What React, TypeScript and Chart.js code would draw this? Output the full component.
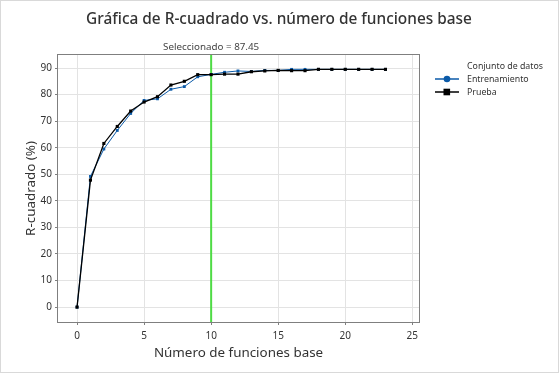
import React, { useEffect, useRef } from "react";
import { Chart, registerables } from "chart.js";

Chart.register(...registerables);

const xValues = [0, 1, 2, 3, 4, 5, 6, 7, 8, 9, 10, 11, 12, 13, 14, 15, 16, 17, 18, 19, 20, 21, 22, 23];
const trainValues = [0, 49.2, 59.5, 66.5, 72.9, 77.8, 78.4, 82.0, 83.0, 86.7, 87.6, 88.4, 88.9, 88.7, 89.1, 89.1, 89.5, 89.5, 89.5, 89.5, 89.5, 89.5, 89.5, 89.5];
const testValues = [0, 47.8, 61.6, 68.0, 73.8, 77.2, 79.2, 83.6, 85.0, 87.5, 87.5, 87.7, 87.7, 88.6, 88.9, 89.1, 89.0, 89.0, 89.5, 89.5, 89.5, 89.5, 89.5, 89.5];
const xTicks = [0, 5, 10, 15, 20, 25];
const yTicks = [0, 10, 20, 30, 40, 50, 60, 70, 80, 90];
const seriesNames = ["Entrenamiento", "Prueba"];
const selectedX = 10;
const selectedLabel = "Seleccionado = 87.45";
const titleText = "Gráfica de R-cuadrado vs. número de funciones base";
const xTitle = "Número de funciones base";
const yTitle = "R-cuadrado (%)";
const legendTitle = "Conjunto de datos";

const FONT = "'Noto Sans', 'Open Sans', sans-serif";
const BLUE = "#0b5aa8";
const BLACK = "#000000";

export default function App() {
  const ref = useRef<HTMLCanvasElement | null>(null);

  useEffect(() => {
    document.body.style.margin = "0";
    const canvas = ref.current;
    if (!canvas) return;

    const decor = {
      id: "decor",
      beforeDatasetsDraw(chart: any) {
        const { ctx, chartArea } = chart;
        const xs = chart.scales.x;
        ctx.save();
        const gx = xs.getPixelForValue(selectedX);
        ctx.strokeStyle = "#4fdb45";
        ctx.lineWidth = 2;
        ctx.beginPath();
        ctx.moveTo(gx, chartArea.top);
        ctx.lineTo(gx, chartArea.bottom);
        ctx.stroke();
        ctx.restore();
      },
      afterDraw(chart: any) {
        const { ctx, chartArea, width, height } = chart;
        const xs = chart.scales.x;
        ctx.save();
        ctx.strokeStyle = "#7f7f7f";
        ctx.lineWidth = 1;
        ctx.strokeRect(
          Math.round(chartArea.left) - 0.5,
          Math.round(chartArea.top) - 0.5,
          Math.round(chartArea.right - chartArea.left) + 1,
          Math.round(chartArea.bottom - chartArea.top) + 1
        );
        ctx.strokeStyle = "#d9d9d9";
        ctx.strokeRect(0.5, 0.5, width - 1, height - 1);

        ctx.fillStyle = "#333333";
        ctx.textAlign = "center";
        ctx.textBaseline = "middle";
        ctx.font = `500 15.4px ${FONT}`;
        ctx.fillText(titleText, 279, 20);

        ctx.font = `9.8px ${FONT}`;
        ctx.fillStyle = "#444444";
        ctx.fillText(selectedLabel, xs.getPixelForValue(selectedX), 47);

        ctx.font = `13.4px ${FONT}`;
        ctx.fillStyle = "#333333";
        ctx.fillText(xTitle, (chartArea.left + chartArea.right) / 2, 353);
        ctx.save();
        ctx.translate(31, (chartArea.top + chartArea.bottom) / 2);
        ctx.rotate(-Math.PI / 2);
        ctx.fillText(yTitle, 0, 0);
        ctx.restore();

        ctx.textAlign = "left";
        ctx.font = `8.8px ${FONT}`;
        ctx.fillStyle = "#333333";
        ctx.fillText(legendTitle, 467, 66);
        const items = [
          { name: seriesNames[0], color: BLUE, y: 79, shape: "circle" },
          { name: seriesNames[1], color: BLACK, y: 92, shape: "rect" },
        ];
        for (const it of items) {
          ctx.strokeStyle = it.color;
          ctx.lineWidth = 1.5;
          ctx.beginPath();
          ctx.moveTo(435, it.y);
          ctx.lineTo(459, it.y);
          ctx.stroke();
          ctx.fillStyle = it.color;
          if (it.shape === "circle") {
            ctx.beginPath();
            ctx.arc(447, it.y, 3.3, 0, Math.PI * 2);
            ctx.fill();
          } else {
            ctx.fillRect(443.5, it.y - 3.3, 6.6, 6.6);
          }
          ctx.fillStyle = "#333333";
          ctx.fillText(it.name, 467, it.y);
        }
        ctx.restore();
      },
    };

    const chart = new Chart(canvas, {
      type: "scatter",
      data: {
        datasets: [
          {
            label: seriesNames[0],
            data: xValues.map((x, i) => ({ x, y: trainValues[i] })),
            showLine: true,
            borderColor: BLUE,
            backgroundColor: BLUE,
            borderWidth: 1,
            pointStyle: "rect",
            pointRadius: 2,
            pointBorderWidth: 0,
            order: 2,
          },
          {
            label: seriesNames[1],
            data: xValues.map((x, i) => ({ x, y: testValues[i] })),
            showLine: true,
            borderColor: BLACK,
            backgroundColor: BLACK,
            borderWidth: 1.3,
            pointStyle: "rect",
            pointRadius: 2.2,
            pointBorderWidth: 0,
            order: 1,
          },
        ],
      },
      options: {
        animation: false,
        responsive: false,
        layout: { padding: { left: 0, top: 55, right: 140, bottom: 0 } },
        plugins: {
          legend: { display: false },
          title: { display: false },
          tooltip: { enabled: false },
        },
        scales: {
          x: {
            type: "linear",
            min: -1.42,
            max: 25.5,
            afterBuildTicks: (s: any) => {
              s.ticks = xTicks.map((v) => ({ value: v }));
            },
            afterFit: (s: any) => {
              s.height = 51;
            },
            grid: { color: "#e3e3e3", drawTicks: true, tickLength: 3, tickColor: "#7f7f7f", lineWidth: 1 },
            border: { display: false },
            ticks: {
              font: { family: FONT, size: 10 },
              color: "#333333",
              padding: 5,
            },
          },
          y: {
            type: "linear",
            min: -5.6,
            max: 94.9,
            afterBuildTicks: (s: any) => {
              s.ticks = yTicks.map((v) => ({ value: v }));
            },
            afterFit: (s: any) => {
              s.width = 58;
            },
            grid: { color: "#e3e3e3", drawTicks: true, tickLength: 3, tickColor: "#7f7f7f", lineWidth: 1 },
            border: { display: false },
            ticks: {
              font: { family: FONT, size: 10 },
              color: "#333333",
              padding: 3,
            },
          },
        },
      },
      plugins: [decor],
    });
    return () => chart.destroy();
  }, []);

  return (
    <div style={{ position: "absolute", left: 0, top: 0, width: 559, height: 373, background: "#fff" }}>
      <canvas ref={ref} width={559} height={373} style={{ width: 559, height: 373, display: "block" }} />
    </div>
  );
}
